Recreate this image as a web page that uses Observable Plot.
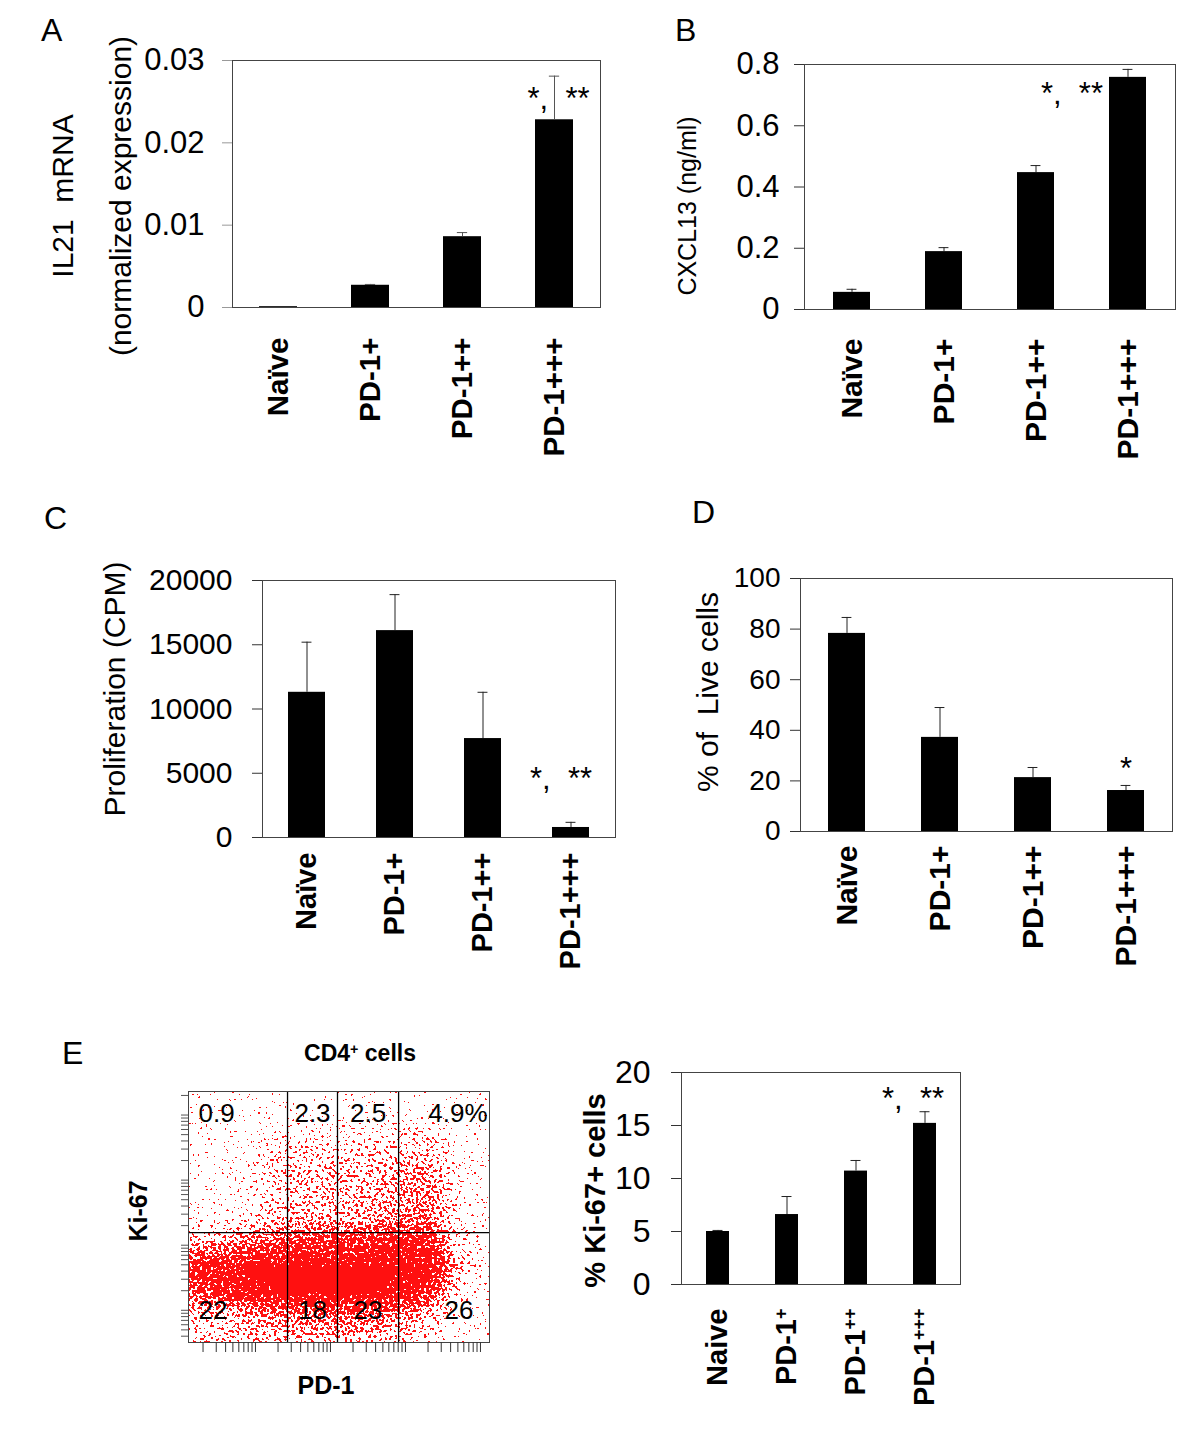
<!DOCTYPE html>
<html><head><meta charset="utf-8">
<script src="https://cdn.jsdelivr.net/npm/d3@7"></script>
<script src="https://cdn.jsdelivr.net/npm/@observablehq/plot@0.6"></script>
<style>
body{margin:0;background:#fff;}
#fig{position:relative;width:1200px;height:1429px;overflow:hidden;background:#fff;font-family:"Liberation Sans",Arial,Helvetica,sans-serif;}
#fig svg{position:absolute;}
#fig svg text{white-space:pre;}
.letter{position:absolute;font-size:32px;line-height:32px;color:#000;}
</style></head><body><div id="fig"></div>
<script>
// ---------- data ----------
const groups = ["Naïve", "PD-1+", "PD-1++", "PD-1+++"];
const groupsE = ["Naive", "PD-1⁺", "PD-1⁺⁺", "PD-1⁺⁺⁺"];

const il21Mean = [0.0001, 0.0027, 0.0086, 0.0228];
const il21Sd   = [0, 0.0001, 0.0005, 0.0053];
const il21Ticks = [0, 0.01, 0.02, 0.03];

const cxcl13Mean = [0.056, 0.189, 0.447, 0.758];
const cxcl13Sd   = [0.010, 0.013, 0.023, 0.026];
const cxcl13Ticks = [0, 0.2, 0.4, 0.6, 0.8];

const prolifMean = [11300, 16100, 7700, 780];
const prolifSd   = [3900, 2800, 3600, 400];
const prolifTicks = [0, 5000, 10000, 15000, 20000];

const liveMean = [78.3, 37.2, 21.3, 16.2];
const liveSd   = [6.3, 11.8, 4.0, 2.0];
const liveTicks = [0, 20, 40, 60, 80, 100];

const ki67Mean = [5.0, 6.6, 10.7, 15.2];
const ki67Sd   = [0.1, 1.7, 1.0, 1.1];
const ki67Ticks = [0, 5, 10, 15, 20];

const sigA = [{cat: "PD-1+++", label: "*,  **"}];
const sigB = [{cat: "PD-1+++", label: "*,  **"}];
const sigC = [{cat: "PD-1+++", label: "*,  **"}];
const sigD = [{cat: "PD-1+++", label: "*"}];
const sigE = [{cat: "PD-1⁺⁺⁺", label: "*,  **"}];

// flow cytometry panel (PD-1 vs Ki-67), frame units 0-100
const flowGates = [32.9, 49.5, 69.8];
const flowGateY = 43.8;
const flowUpper = ["0.9", "2.3", "2.5", "4.9%"];
const flowLower = ["22", "18", "23", "26"];
const flowGridX = [0, 10, 20, 30, 40, 50, 60, 70, 80, 90, 100];
const flowGridY = [100, 90, 80, 70, 60, 50, 40, 30, 20, 10, 0];
const flowDensity = [
  [0.00, 0.00, 0.00, 0.00, 0.00, 0.00, 0.00, 0.00, 0.00, 0.00, 0.00],
  [0.00, 0.00, 0.00, 0.00, 0.02, 0.02, 0.02, 0.03, 0.03, 0.00, 0.00],
  [0.00, 0.00, 0.02, 0.14, 0.16, 0.16, 0.17, 0.22, 0.26, 0.02, 0.00],
  [0.00, 0.00, 0.08, 0.26, 0.30, 0.30, 0.32, 0.38, 0.42, 0.08, 0.00],
  [0.00, 0.00, 0.10, 0.28, 0.32, 0.32, 0.34, 0.42, 0.48, 0.10, 0.00],
  [0.00, 0.03, 0.12, 0.30, 0.34, 0.36, 0.38, 0.48, 0.52, 0.10, 0.00],
  [0.35, 0.40, 0.55, 0.68, 0.72, 0.76, 0.78, 0.85, 0.80, 0.18, 0.00],
  [0.78, 0.92, 1.00, 1.00, 1.00, 1.00, 1.00, 1.00, 1.00, 0.35, 0.00],
  [0.62, 0.78, 0.94, 1.00, 1.00, 1.00, 1.00, 0.94, 0.78, 0.18, 0.00],
  [0.22, 0.28, 0.38, 0.48, 0.52, 0.56, 0.56, 0.46, 0.32, 0.05, 0.00],
  [0.32, 0.28, 0.32, 0.32, 0.32, 0.32, 0.30, 0.22, 0.10, 0.00, 0.00]
];

// ---------- helpers ----------
const FONT = '"Liberation Sans", Arial, Helvetica, sans-serif';
const NS = "http://www.w3.org/2000/svg";
const fig = document.getElementById("fig");

function place(svg, left, top) {
  svg.style.left = left + "px";
  svg.style.top = top + "px";
  fig.appendChild(svg);
}
function letter(t, left, top) {
  const d = document.createElement("div");
  d.className = "letter";
  d.textContent = t;
  d.style.left = left + "px";
  d.style.top = top + "px";
  fig.appendChild(d);
}
// render "⁺" characters as real superscript pluses
function superscriptPlus(svg) {
  svg.querySelectorAll("text").forEach(t => {
    const s = t.textContent;
    const i = s.indexOf("⁺");
    if (i < 0) return;
    const n = (s.match(/⁺/g) || []).length;
    t.textContent = s.slice(0, i);
    const sp = document.createElementNS(NS, "tspan");
    sp.setAttribute("dy", "-0.5em");
    sp.setAttribute("font-size", "62%");
    sp.textContent = "+".repeat(n);
    t.appendChild(sp);
    const rest = s.slice(i + n);
    if (rest) {
      const r = document.createElementNS(NS, "tspan");
      r.setAttribute("dy", "0.31em");
      r.textContent = rest;
      t.appendChild(r);
    }
  });
}

function barPanel(c) {
  const data = c.cats.map((cat, i) => ({cat, mean: c.mean[i], top: c.mean[i] + c.sd[i], sd: c.sd[i]}));
  const withErr = data.filter(d => d.sd > 0);
  const frameW = c.width - c.ml - c.mr;
  const band = frameW / c.cats.length * (1 - c.pad);
  const inset = Math.max(0, (band - 10) / 2);
  const topOf = Object.fromEntries(data.map(d => [d.cat, d.top]));
  return Plot.plot({
    width: c.width, height: c.height,
    marginLeft: c.ml, marginRight: c.mr, marginTop: c.mt, marginBottom: c.mb,
    style: {fontFamily: FONT, background: "transparent", overflow: "visible", color: "black"},
    x: {domain: c.cats, paddingInner: c.pad, paddingOuter: c.pad / 2, label: null},
    y: {domain: c.domain, label: null},
    marks: [
      Plot.barY(data, {x: "cat", y: "mean", fill: "black"}),
      Plot.ruleX(withErr, {x: "cat", y1: "mean", y2: "top", stroke: c.errColor, strokeWidth: 1}),
      Plot.tickY(withErr, {x: "cat", y: "top", stroke: c.errColor, strokeWidth: 1, insetLeft: inset, insetRight: inset}),
      Plot.frame({stroke: "#444", strokeWidth: 1}),
      Plot.axisY({ticks: c.ticks, tickFormat: d => String(d), tickSize: 10, tickPadding: c.yPad,
        fontSize: c.tickFont, stroke: c.tickColor, fill: "black"}),
      Plot.axisX({tickSize: 0, tickPadding: c.xPad, tickRotate: -90, fontSize: c.xFont,
        fontWeight: "bold", fill: "black"}),
      ...c.titles.map(t => Plot.text([t.text], {text: d => d, frameAnchor: "left", rotate: -90,
        textAnchor: "middle", lineAnchor: "middle",
        dx: t.dx, dy: t.dy, fontSize: t.size, fontWeight: t.bold ? "bold" : "normal", fill: "black"})),
      Plot.text(c.sig, {x: "cat", y: d => topOf[d.cat], text: "label", dx: c.sigDx, dy: c.sigDy,
        textAnchor: c.sigAnchor || "middle", lineAnchor: "middle", fontSize: 31, fill: "black"})
    ]
  });
}

// ---------- panel A ----------
place(barPanel({
  cats: groups, mean: il21Mean, sd: il21Sd, domain: [0, 0.03], ticks: il21Ticks,
  width: 615, height: 470, ml: 232, mr: 15, mt: 60, mb: 163, pad: 0.59,
  yPad: 18, xPad: 30, tickFont: 31, xFont: 29.5, tickColor: "#999", errColor: "#555",
  titles: [{text: "IL21  mRNA", dx: -169, dy: 12, size: 30},
           {text: "(normalized expression)", dx: -111, dy: 12, size: 30}],
  sig: sigA, sigDx: 4, sigDy: 23
}), 0, 0);
letter("A", 41, 14);

// ---------- panel B ----------
place(barPanel({
  cats: groups, mean: cxcl13Mean, sd: cxcl13Sd, domain: [0, 0.8], ticks: cxcl13Ticks,
  width: 585, height: 470, ml: 189, mr: 25, mt: 64, mb: 161, pad: 0.6,
  yPad: 15, xPad: 29, tickFont: 31, xFont: 30, tickColor: "#333", errColor: "#222",
  titles: [{text: "CXCL13 (ng/ml)", dx: -117, dy: 19, size: 25}],
  sig: sigB, sigDx: -25, sigDy: 25, sigAnchor: "end"
}), 615, 0);
letter("B", 675, 14);

// ---------- panel C ----------
place(barPanel({
  cats: groups, mean: prolifMean, sd: prolifSd, domain: [0, 20000], ticks: prolifTicks,
  width: 620, height: 500, ml: 262, mr: 5, mt: 100, mb: 143, pad: 0.58,
  yPad: 20, xPad: 15, tickFont: 30, xFont: 29, tickColor: "#333", errColor: "#222",
  titles: [{text: "Proliferation (CPM)", dx: -147, dy: -20, size: 30}],
  sig: sigC, sigDx: -10, sigDy: -43
}), 0, 480);
letter("C", 44, 502);

// ---------- panel D ----------
place(barPanel({
  cats: groups, mean: liveMean, sd: liveSd, domain: [0, 100], ticks: liveTicks,
  width: 580, height: 500, ml: 180, mr: 28, mt: 98, mb: 149, pad: 0.6,
  yPad: 10, xPad: 14, tickFont: 28, xFont: 30, tickColor: "#333", errColor: "#222",
  titles: [{text: "% of  Live cells", dx: -92, dy: -13, size: 30}],
  sig: sigD, sigDx: 0, sigDy: -16
}), 620, 480);
letter("D", 692, 496);

// ---------- panel E (bar) ----------
const ePlot = barPanel({
  cats: groupsE, mean: ki67Mean, sd: ki67Sd, domain: [0, 20], ticks: ki67Ticks,
  width: 440, height: 389, ml: 141, mr: 20, mt: 32, mb: 145, pad: 0.67,
  yPad: 21, xPad: 24, tickFont: 32, xFont: 29, tickColor: "#333", errColor: "#222",
  titles: [{text: "% Ki-67+ cells", dx: -86, dy: 12, size: 29, bold: true}],
  sig: sigE, sigDx: -12, sigDy: -13
});
superscriptPlus(ePlot);
place(ePlot, 540, 1040);

// ---------- panel E (flow cytometry) ----------
const flowPts = [];
flowGridY.forEach((y, r) => flowGridX.forEach((x, k) => flowPts.push({x, y, v: flowDensity[r][k]})));
const regions = [0, ...flowGates, 100];
const anchors = ["start", "middle", "middle", "end"];
const labelX = (i) => anchors[i] === "start" ? regions[i] : anchors[i] === "end" ? regions[i + 1] : (regions[i] + regions[i + 1]) / 2;
const upper = flowUpper.map((t, i) => ({t, x: labelX(i), a: anchors[i]}));
const lower = flowLower.map((t, i) => ({t, x: labelX(i), a: anchors[i]}));

const flowW = 420, flowH = 380, fml = 88, fmr = 31, fmt = 61, fmb = 68;
const flowPlot = Plot.plot({
  width: flowW, height: flowH, marginLeft: fml, marginRight: fmr, marginTop: fmt, marginBottom: fmb,
  style: {fontFamily: FONT, background: "transparent", overflow: "visible", color: "black"},
  x: {domain: [0, 100], axis: null},
  y: {domain: [0, 100], axis: null},
  color: {type: "linear", domain: [0, 1], range: ["#ffffff", "#ff0000"]},
  marks: [
    Plot.raster(flowPts, {x: "x", y: "y", fill: "v", interpolate: "barycentric", x1: 0, x2: 100, y1: 0, y2: 100}),
    Plot.ruleX(flowGates, {stroke: "black", strokeWidth: 1.3}),
    Plot.ruleY([flowGateY], {stroke: "black", strokeWidth: 1.3}),
    Plot.frame({stroke: "#444"}),
    ...["start", "middle", "end"].map(a => Plot.text(upper.filter(d => d.a === a), {x: "x", text: "t", frameAnchor: "top",
      textAnchor: a, lineAnchor: "middle", dx: a === "start" ? 10 : a === "end" ? -2 : 0, dy: 22, fontSize: 26, fill: "black"})),
    ...["start", "middle", "end"].map(a => Plot.text(lower.filter(d => d.a === a), {x: "x", text: "t", frameAnchor: "bottom",
      textAnchor: a, lineAnchor: "middle", dx: a === "start" ? 10 : a === "end" ? -16 : 0, dy: -32, fontSize: 26, fill: "black"})),
    Plot.text(["CD4⁺ cells"], {text: d => d, frameAnchor: "top", lineAnchor: "middle", dx: 21, dy: -38, fontSize: 23, fontWeight: "bold", fill: "black"}),
    Plot.text(["Ki-67"], {text: d => d, frameAnchor: "left", rotate: -90, textAnchor: "middle", lineAnchor: "middle", dx: -50, dy: -6, fontSize: 25, fontWeight: "bold", fill: "black"}),
    Plot.text(["PD-1"], {text: d => d, frameAnchor: "bottom", lineAnchor: "middle", dx: -13, dy: 43, fontSize: 25, fontWeight: "bold", fill: "black"})
  ]
});
// dot-like rendering of the density (each pixel shown when its density beats a noise threshold)
const defs = document.createElementNS(NS, "defs");
defs.innerHTML = `<filter id="flowDots" x="0" y="0" width="1" height="1" color-interpolation-filters="sRGB">
  <feColorMatrix in="SourceGraphic" type="matrix" values="0 0 0 0 0  0 0 0 0 0  0 0 0 0 0  0 -1 0 0 1" result="dens"/>
  <feTurbulence type="fractalNoise" baseFrequency="0.38" numOctaves="1" seed="7" result="turb"/>
  <feColorMatrix in="turb" type="matrix" values="0 0 0 0 0  0 0 0 0 0  0 0 0 0 0  2.6 0 0 0 -0.78" result="noise"/>
  <feComposite in="dens" in2="noise" operator="arithmetic" k1="0" k2="1" k3="-1" k4="0.5" result="diff"/>
  <feComponentTransfer in="diff" result="mask"><feFuncA type="discrete" tableValues="0 1"/></feComponentTransfer>
  <feFlood flood-color="#ff1010" result="red"/>
  <feComposite in="red" in2="mask" operator="in"/>
</filter>`;
flowPlot.insertBefore(defs, flowPlot.firstChild);
const rasterG = flowPlot.querySelector('g[aria-label="raster"]');
if (rasterG) rasterG.setAttribute("filter", "url(#flowDots)");
superscriptPlus(flowPlot);
place(flowPlot, 100, 1030);

// log-decade tick axes of the cytometer (overlay with the same frame)
const flowAxes = Plot.plot({
  width: flowW, height: flowH, marginLeft: fml, marginRight: fmr, marginTop: fmt, marginBottom: fmb,
  style: {background: "transparent", overflow: "visible"},
  x: {type: "log", domain: [1.28, 13200]},
  y: {type: "log", domain: [3.2, 23000]},
  marks: [
    Plot.axisX({ticks: 40, tickFormat: () => "", tickSize: 10, stroke: "#333"}),
    Plot.axisY({ticks: 40, tickFormat: () => "", tickSize: 7, stroke: "#555"})
  ]
});
place(flowAxes, 100, 1030);
letter("E", 62, 1037);
</script></body></html>
